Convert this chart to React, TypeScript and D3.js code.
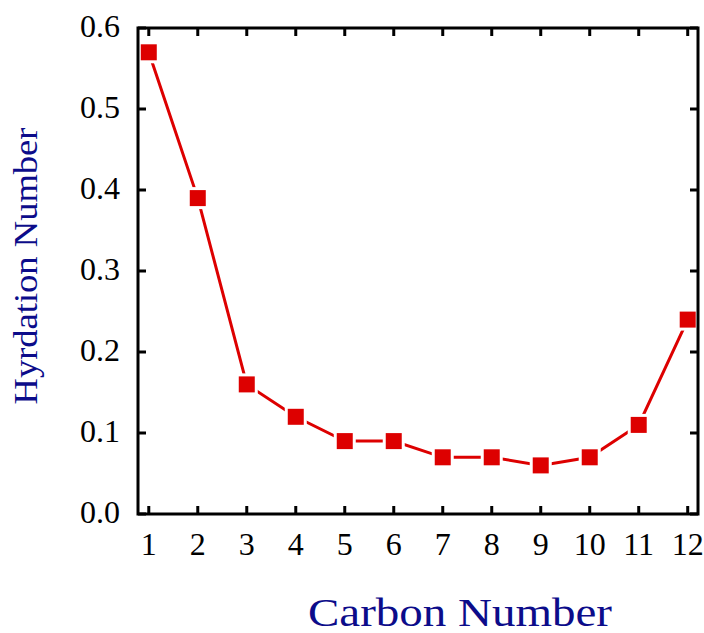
import React from "react";
import * as d3 from "d3";

const carbonNumbers = [1, 2, 3, 4, 5, 6, 7, 8, 9, 10, 11, 12];
const hydrationValues = [0.57, 0.39, 0.16, 0.12, 0.09, 0.09, 0.07, 0.07, 0.06, 0.07, 0.11, 0.24];
const yTicks = [0, 0.1, 0.2, 0.3, 0.4, 0.5, 0.6];
const xTicks = [1, 2, 3, 4, 5, 6, 7, 8, 9, 10, 11, 12];
const xTitle = "Carbon Number";
const yTitle = "Hyrdation Number";

const W = 704;
const H = 633;
const left = 138;
const right = 698;
const top = 28;
const bottom = 514;

export default function App() {
  const x = d3.scaleLinear().domain([0.78, 12.21]).range([left, right]);
  const y = d3.scaleLinear().domain([0, 0.6]).range([bottom, top]);
  const line = d3
    .line<number>()
    .x((_, i) => x(carbonNumbers[i]))
    .y((d) => y(d));
  const red = "#dd0000";
  const navy = "#0c0c8a";
  const font = "'Liberation Serif', 'Times New Roman', serif";
  const tickLen = 8;
  const ms = 16;
  const gap = 3;
  return (
    <svg width={W} height={H} style={{ position: "absolute", left: 0, top: 0, background: "#fff" }}>
      <rect x={0} y={0} width={W} height={H} fill="#fff" />
      {/* line */}
      <path d={line(hydrationValues) || ""} fill="none" stroke={red} strokeWidth={3} />
      {hydrationValues.map((v, i) => (
        <g key={i}>
          <rect
            x={x(carbonNumbers[i]) - ms / 2 - gap}
            y={y(v) - ms / 2 - gap}
            width={ms + 2 * gap}
            height={ms + 2 * gap}
            fill="#fff"
          />
          <rect x={x(carbonNumbers[i]) - ms / 2} y={y(v) - ms / 2} width={ms} height={ms} fill={red} />
        </g>
      ))}
      {/* ticks */}
      {xTicks.map((t) => (
        <g key={"x" + t}>
          <line x1={x(t)} x2={x(t)} y1={bottom} y2={bottom - tickLen} stroke="#000" strokeWidth={3} />
          <line x1={x(t)} x2={x(t)} y1={top} y2={top + tickLen} stroke="#000" strokeWidth={3} />
          <text x={x(t)} y={555} textAnchor="middle" fontFamily={font} fontSize={32} fill="#000">
            {t}
          </text>
        </g>
      ))}
      {yTicks.map((t) => (
        <g key={"y" + t}>
          <line x1={left} x2={left + tickLen} y1={y(t)} y2={y(t)} stroke="#000" strokeWidth={3} />
          <line x1={right} x2={right - tickLen} y1={y(t)} y2={y(t)} stroke="#000" strokeWidth={3} />
          <text x={120} y={y(t) + 9} textAnchor="end" fontFamily={font} fontSize={32} fill="#000">
            {d3.format(".1f")(t)}
          </text>
        </g>
      ))}
      {/* frame */}
      <rect x={left} y={top} width={right - left} height={bottom - top} fill="none" stroke="#000" strokeWidth={3} />
      {/* titles */}
      <text
        x={460}
        y={626}
        textAnchor="middle"
        fontFamily={font}
        fontSize={39}
        fill={navy}
        textLength={304}
        lengthAdjust="spacingAndGlyphs"
      >
        {xTitle}
      </text>
      <text
        transform={`translate(37,266) rotate(-90)`}
        textAnchor="middle"
        fontFamily={font}
        fontSize={33}
        fill={navy}
        textLength={277}
        lengthAdjust="spacingAndGlyphs"
      >
        {yTitle}
      </text>
    </svg>
  );
}
